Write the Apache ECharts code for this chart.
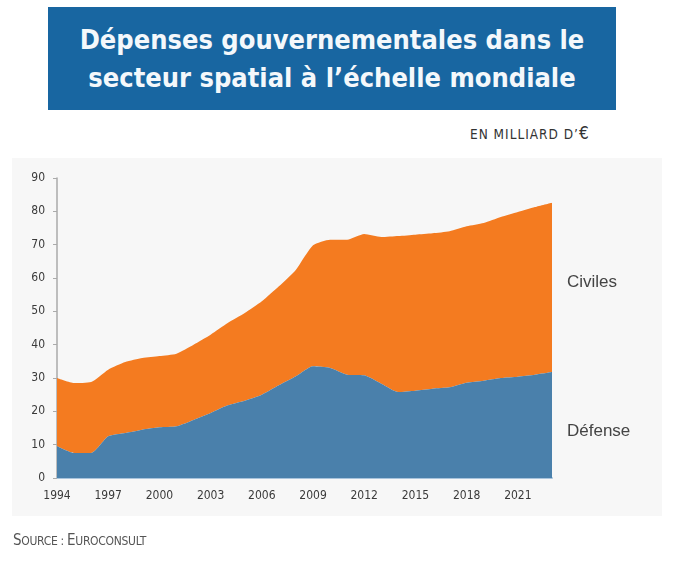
<!DOCTYPE html>
<html>
<head>
<meta charset="utf-8">
<script src="https://cdn.jsdelivr.net/npm/echarts@6/dist/echarts.min.js"></script>
<style>
  html, body { margin: 0; padding: 0; background: #ffffff; }
  #wrap { position: relative; width: 680px; height: 562px; overflow: hidden; font-family: "DejaVu Sans Condensed", "DejaVu Sans", sans-serif; }
  #titlebox { position: absolute; left: 48px; top: 7px; width: 568px; height: 103px; background: #1866a1; color: #f4f8fb;
              text-align: center; font-size: 27px; font-weight: bold; line-height: 38px; padding-top: 14px; box-sizing: border-box; letter-spacing: 0px; }
  #unit { position: absolute; left: 470px; top: 123px; font-size: 13.5px; color: #333; letter-spacing: 1px; }
  #unit .big { font-size: 17px; }
  #panel { position: absolute; left: 12px; top: 158px; width: 650px; height: 358px; background: #f7f7f7; }
  #chart { position: absolute; left: 0; top: 0; width: 680px; height: 562px; }
  #source { position: absolute; left: 13px; top: 531px; font-size: 12px; color: #555; letter-spacing: -0.3px; }
  #source .big { font-size: 15px; }
</style>
</head>
<body>
<div id="wrap">
  <div id="titlebox">Dépenses gouvernementales dans le<br>secteur spatial à l’échelle mondiale</div>
  <div id="unit">EN MILLIARD D’<span class="big">€</span></div>
  <div id="panel"></div>
  <div id="chart"></div>
  <div id="source"><span class="big">S</span>OURCE : <span class="big">E</span>UROCONSULT</div>
</div>
<script>
// Government space spending worldwide, billions of euros
const years = ['1994','1995','1996','1997','1998','1999','2000','2001','2002','2003',
               '2004','2005','2006','2007','2008','2009','2010','2011','2012','2013',
               '2014','2015','2016','2017','2018','2019','2020','2021','2022','2023'];
const defense = [9.5, 7.5, 7.5, 12.5, 13.5, 14.5, 15.2, 15.5, 17.4, 19.5,
                 21.8, 23.2, 25.0, 27.8, 30.5, 33.5, 33.0, 31.0, 30.8, 28.3,
                 25.8, 26.2, 26.8, 27.2, 28.6, 29.2, 30.0, 30.4, 31.0, 31.8];
const civil = [20.5, 21.0, 21.3, 20.0, 21.3, 21.5, 21.4, 21.8, 22.6, 23.5,
               24.7, 26.3, 28.0, 29.7, 32.0, 36.3, 38.5, 40.5, 42.4, 44.0,
               46.8, 46.8, 46.6, 46.8, 46.9, 47.3, 48.3, 49.4, 50.3, 50.8];
const yTicks = [0, 10, 20, 30, 40, 50, 60, 70, 80, 90];
const seriesNames = ['Défense', 'Civiles'];

const chart = echarts.init(document.getElementById('chart'), null, { renderer: 'canvas' });
const axisFont = { fontFamily: 'DejaVu Sans Condensed, DejaVu Sans, sans-serif', fontSize: 12, color: '#3a3a3a' };

chart.setOption({
  animation: false,
  grid: { left: 57, right: 128, top: 178, bottom: 84, containLabel: false },
  xAxis: {
    type: 'category',
    data: years,
    boundaryGap: false,
    axisLine: { show: true, lineStyle: { color: '#a9c4dc', width: 2 } },
    axisTick: { show: true, interval: 1, length: 5, inside: true, lineStyle: { color: '#999' } },
    axisLabel: Object.assign({ interval: 2, margin: 12 }, axisFont),
    splitLine: { show: false }
  },
  yAxis: {
    type: 'value',
    min: yTicks[0],
    max: yTicks[yTicks.length - 1],
    interval: yTicks[1] - yTicks[0],
    axisLine: { show: true, lineStyle: { color: '#aaa', width: 1.5 } },
    axisTick: { show: true, length: 4, lineStyle: { color: '#aaa' } },
    axisLabel: Object.assign({ margin: 12 }, axisFont),
    splitLine: { show: false }
  },
  series: [
    {
      name: seriesNames[0],
      type: 'line',
      stack: 'total',
      data: defense,
      symbol: 'none',
      smooth: 0.2,
      lineStyle: { width: 0 },
      areaStyle: { color: '#4a80ab', opacity: 1 },
      z: 3
    },
    {
      name: seriesNames[1],
      type: 'line',
      stack: 'total',
      data: civil,
      symbol: 'none',
      smooth: 0.2,
      lineStyle: { width: 0 },
      areaStyle: { color: '#f47b20', opacity: 1 },
      z: 2
    }
  ],
  graphic: [
    {
      type: 'text',
      left: 567, top: 274,
      style: { text: seriesNames[1], font: '17px "Liberation Sans", Arial, sans-serif', fill: '#444' }
    },
    {
      type: 'text',
      left: 567, top: 423,
      style: { text: seriesNames[0], font: '17px "Liberation Sans", Arial, sans-serif', fill: '#444' }
    }
  ]
});
</script>
</body>
</html>
